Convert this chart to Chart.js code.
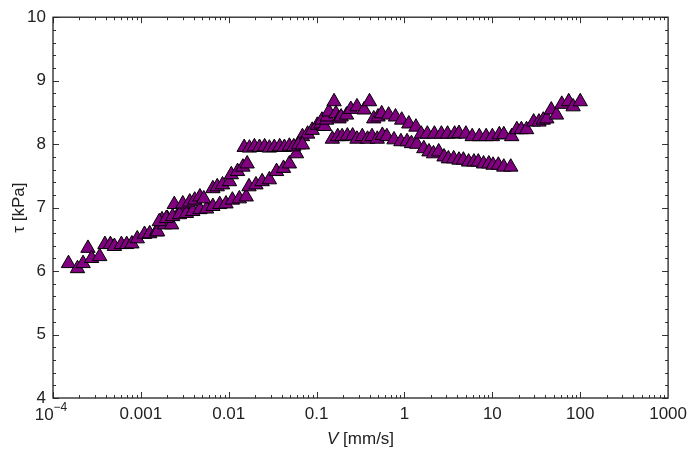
<!DOCTYPE html>
<html>
<head>
<meta charset="utf-8">
<script src="https://cdn.jsdelivr.net/npm/chart.js@4.4.1/dist/chart.umd.min.js"></script>
<style>
html, body { margin: 0; padding: 0; background: #fff; }
</style>
</head>
<body>
<canvas id="scatter-chart" width="693" height="451"></canvas>
<script>
// V in mm/s, tau in kPa
var startV   = [1.5e-4, 1.9e-4, 2.2e-4, 2.5e-4, 2.75e-4, 3.4e-4, 3.9e-4, 4.5e-4, 5.0e-4, 6.0e-4, 6.9e-4, 7.9e-4, 9.1e-4, 0.0011, 0.00126, 0.0015, 0.00155, 0.00174, 0.00186, 0.002, 0.00224, 0.0024, 0.0029];
var startTau = [6.12, 6.04, 6.12, 6.36, 6.20, 6.23, 6.42, 6.42, 6.39, 6.42, 6.42, 6.43, 6.51, 6.58, 6.59, 6.62, 6.62, 6.81, 6.73, 6.83, 6.73, 7.05, 6.98];

var upperRiseV   = [0.003, 0.0036, 0.0041, 0.0047, 0.0052, 0.0066, 0.0074, 0.0085, 0.0102, 0.0107, 0.0126, 0.0145, 0.0162];
var upperRiseTau = [7.06, 7.09, 7.12, 7.17, 7.14, 7.30, 7.33, 7.36, 7.41, 7.52, 7.57, 7.64, 7.69];

var plateauV   = [0.015, 0.0172, 0.0196, 0.0224, 0.0256, 0.029, 0.033, 0.038, 0.043, 0.049, 0.055, 0.062, 0.069];
var plateauTau = [7.95, 7.94, 7.96, 7.95, 7.96, 7.94, 7.95, 7.96, 7.95, 7.97, 7.96, 7.99, 7.99];

var lowerRiseV   = [0.00162, 0.00195, 0.0023, 0.00275, 0.0033, 0.0039, 0.0047, 0.0056, 0.0066, 0.0079, 0.0093, 0.011, 0.0132, 0.0158, 0.017, 0.0204, 0.024, 0.029, 0.035, 0.042, 0.049, 0.059, 0.069, 0.079, 0.089, 0.102, 0.112, 0.115, 0.123, 0.13, 0.132, 0.138, 0.158];
var lowerRiseTau = [6.78, 6.83, 6.86, 6.89, 6.91, 6.94, 6.97, 6.98, 7.02, 7.05, 7.06, 7.12, 7.14, 7.17, 7.33, 7.36, 7.41, 7.44, 7.57, 7.62, 7.69, 7.85, 8.12, 8.16, 8.22, 8.30, 8.32, 8.38, 8.28, 8.38, 8.43, 8.51, 8.67];

var upperWaveV   = [0.166, 0.18, 0.19, 0.219, 0.245, 0.288, 0.347, 0.40, 0.447, 0.50, 0.55, 0.66, 0.79, 0.93, 1.12, 1.35, 1.55, 1.82, 2.19, 2.63, 3.09, 3.72, 4.17, 5.0, 5.9, 7.1, 8.5, 10, 12, 13.5, 16.6, 19, 21.4, 24.5, 29.5, 33.9, 38, 41.7, 46.8, 53.7, 61.7, 74, 83, 100];
var upperWaveTau = [8.48, 8.40, 8.43, 8.46, 8.55, 8.59, 8.54, 8.67, 8.40, 8.43, 8.48, 8.46, 8.43, 8.38, 8.32, 8.27, 8.16, 8.16, 8.16, 8.16, 8.16, 8.16, 8.17, 8.16, 8.12, 8.12, 8.12, 8.12, 8.15, 8.15, 8.12, 8.23, 8.23, 8.23, 8.35, 8.35, 8.38, 8.40, 8.54, 8.46, 8.63, 8.67, 8.59, 8.67];

var lowerFallV   = [0.151, 0.174, 0.195, 0.224, 0.257, 0.288, 0.331, 0.38, 0.427, 0.49, 0.56, 0.63, 0.76, 0.91, 1.07, 1.2, 1.38, 1.66, 1.9, 2.14, 2.45, 2.82, 3.16, 3.63, 4.17, 4.68, 5.37, 6.17, 6.92, 7.94, 9.12, 10.2, 11.7, 13.5, 16.2];
var lowerFallTau = [8.08, 8.12, 8.12, 8.13, 8.13, 8.08, 8.12, 8.08, 8.12, 8.08, 8.14, 8.12, 8.07, 8.04, 8.04, 8.01, 8.00, 7.93, 7.88, 7.85, 7.88, 7.80, 7.77, 7.77, 7.75, 7.75, 7.72, 7.72, 7.72, 7.69, 7.69, 7.67, 7.67, 7.64, 7.64];

var xDecades = [1e-4, 0.001, 0.01, 0.1, 1, 10, 100, 1000];

function pairs(v, t) {
    return v.map(function (x, i) { return { x: x, y: t[i] }; });
}

var allPoints = [].concat(
    pairs(startV, startTau),
    pairs(lowerRiseV, lowerRiseTau),
    pairs(upperRiseV, upperRiseTau),
    pairs(plateauV, plateauTau),
    pairs(lowerFallV, lowerFallTau),
    pairs(upperWaveV, upperWaveTau)
);

var FONT = "'Liberation Sans', Arial, sans-serif";

// frame, inward ticks, 10^-4 label and axis titles
var frameTicks = {
    id: 'frameTicks',
    afterDraw: function (chart) {
        var c = chart.ctx, a = chart.chartArea, xs = chart.scales.x, ys = chart.scales.y;
        c.save();
        c.strokeStyle = '#333';
        c.lineWidth = 1;
        c.beginPath();
        var d, m, px, py, len;
        for (d = -4; d <= 2; d++) {
            for (m = 1; m <= 9; m++) {
                px = Math.round(xs.getPixelForValue(m * Math.pow(10, d))) + 0.5;
                len = m === 1 ? 6 : 3;
                c.moveTo(px, a.bottom); c.lineTo(px, a.bottom - len);
                c.moveTo(px, a.top); c.lineTo(px, a.top + len);
            }
        }
        for (var k = 0; k <= 30; k++) {
            py = Math.round(ys.getPixelForValue(4 + k * 0.2)) + 0.5;
            len = k % 5 === 0 ? 6 : 3;
            c.moveTo(a.left, py); c.lineTo(a.left + len, py);
            c.moveTo(a.right, py); c.lineTo(a.right - len, py);
        }
        c.stroke();
        c.lineWidth = 1.3;
        c.strokeStyle = '#222';
        c.strokeRect(a.left, a.top, a.right - a.left, a.bottom - a.top);

        c.fillStyle = '#222';
        c.textBaseline = 'alphabetic';
        // 10^-4 label
        var x0 = xs.getPixelForValue(1e-4);
        c.font = '17px ' + FONT;
        var w1 = c.measureText('10').width;
        c.font = '12px ' + FONT;
        var w2 = c.measureText('\u22124').width;
        var sx = x0 - (w1 + w2) / 2 - 2;
        c.textAlign = 'left';
        c.font = '17px ' + FONT;
        c.fillText('10', sx, a.bottom + 22);
        c.font = '12px ' + FONT;
        c.fillText('\u22124', sx + w1, a.bottom + 13);

        // x title
        c.font = 'italic 17px ' + FONT;
        var wv = c.measureText('V').width;
        c.font = '17px ' + FONT;
        var wr = c.measureText(' [mm/s]').width;
        var tx = (a.left + a.right) / 2 - (wv + wr) / 2;
        c.font = 'italic 17px ' + FONT;
        c.fillText('V', tx, 444);
        c.font = '17px ' + FONT;
        c.fillText(' [mm/s]', tx + wv, 444);

        // y title
        c.translate(24, (a.top + a.bottom) / 2);
        c.rotate(-Math.PI / 2);
        c.font = '17px ' + FONT;
        var wt = c.measureText('\u03c4').width;
        var wk = c.measureText(' [kPa]').width;
        c.fillText('\u03c4', -(wt + wk) / 2, 0);
        c.fillText(' [kPa]', -(wt + wk) / 2 + wt, 0);
        c.restore();
    }
};

var ctx = document.getElementById('scatter-chart').getContext('2d');
var myChart = new Chart(ctx, {
    type: 'scatter',
    data: {
        datasets: [{
            label: 'tau',
            data: allPoints,
            pointStyle: 'triangle',
            pointRadius: 8.3,
            pointHoverRadius: 8.3,
            backgroundColor: '#800080',
            borderColor: '#000',
            borderWidth: 1
        }]
    },
    options: {
        responsive: false,
        animation: false,
        layout: { padding: { top: 15, right: 23, left: 0, bottom: 0 } },
        plugins: {
            legend: { display: false },
            tooltip: { enabled: false }
        },
        scales: {
            x: {
                type: 'logarithmic',
                min: 1e-4,
                max: 1000,
                afterBuildTicks: function (scale) {
                    scale.ticks = xDecades.map(function (v) { return { value: v }; });
                },
                afterFit: function (scale) { scale.height = 53; },
                grid: { display: false, drawTicks: false },
                border: { display: false },
                ticks: {
                    autoSkip: false,
                    maxRotation: 0,
                    padding: 6,
                    color: '#222',
                    font: { family: FONT, size: 17 },
                    callback: function (v) { return v === 1e-4 ? '' : String(v); }
                }
            },
            y: {
                min: 4,
                max: 10,
                afterFit: function (scale) { scale.width = 53; },
                grid: { display: false, drawTicks: false },
                border: { display: false },
                ticks: {
                    stepSize: 1,
                    padding: 7,
                    color: '#222',
                    font: { family: FONT, size: 17 }
                }
            }
        }
    },
    plugins: [frameTicks]
});
</script>
</body>
</html>
